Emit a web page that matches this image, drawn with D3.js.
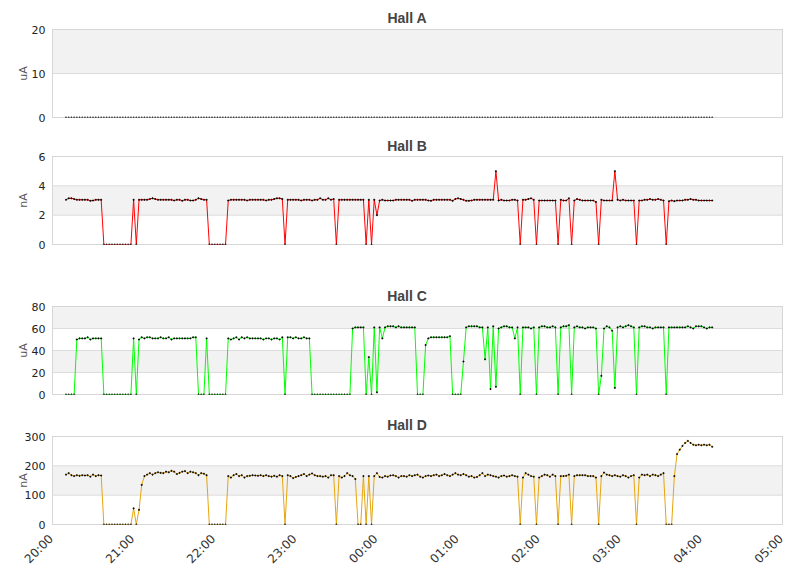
<!DOCTYPE html>
<html>
<head>
<meta charset="utf-8">
<script src="https://cdnjs.cloudflare.com/ajax/libs/d3/7.8.5/d3.min.js"></script>
<style>
body { margin: 0; background: #fff; }
</style>
</head>
<body>
<div id="chart-area"></div>
<script>
/*
*    four stacked panels, one per hall, shared time axis
*/

var chartWidth = 811;
var chartHeight = 578;

// samples every 2 minutes from 20:10
var startTime = "20:10";
var stepMinutes = 2;
var xTickLabels = ["20:00", "21:00", "22:00", "23:00", "00:00", "01:00", "02:00", "03:00", "04:00", "05:00"];

var hallA = [
    0, 0, 0, 0, 0, 0, 0, 0, 0, 0,   0, 0, 0, 0, 0, 0, 0, 0, 0, 0,
    0, 0, 0, 0, 0, 0, 0, 0, 0, 0,   0, 0, 0, 0, 0, 0, 0, 0, 0, 0,
    0, 0, 0, 0, 0, 0, 0, 0, 0, 0,   0, 0, 0, 0, 0, 0, 0, 0, 0, 0,
    0, 0, 0, 0, 0, 0, 0, 0, 0, 0,   0, 0, 0, 0, 0, 0, 0, 0, 0, 0,
    0, 0, 0, 0, 0, 0, 0, 0, 0, 0,   0, 0, 0, 0, 0, 0, 0, 0, 0, 0,
    0, 0, 0, 0, 0, 0, 0, 0, 0, 0,   0, 0, 0, 0, 0, 0, 0, 0, 0, 0,
    0, 0, 0, 0, 0, 0, 0, 0, 0, 0,   0, 0, 0, 0, 0, 0, 0, 0, 0, 0,
    0, 0, 0, 0, 0, 0, 0, 0, 0, 0,   0, 0, 0, 0, 0, 0, 0, 0, 0, 0,
    0, 0, 0, 0, 0, 0, 0, 0, 0, 0,   0, 0, 0, 0, 0, 0, 0, 0, 0, 0,
    0, 0, 0, 0, 0, 0, 0, 0, 0, 0,   0, 0, 0, 0, 0, 0, 0, 0, 0, 0,
    0, 0, 0, 0, 0, 0, 0, 0, 0, 0,   0, 0, 0, 0, 0, 0, 0, 0, 0, 0,
    0, 0, 0, 0, 0, 0, 0, 0, 0, 0,   0, 0, 0, 0, 0, 0, 0, 0, 0, 0
];

var hallB = [
    3.05, 3.15, 3.15, 3.1, 3.05, 3.05, 3.05, 3.05, 3.05, 2.98,
    3.0, 3.05, 3.05, 3.05, 0, 0, 0, 0, 0, 0,
    0, 0, 0, 0, 0, 3.05, 0, 3.05, 3.05, 3.05,
    3.05, 3.1, 3.15, 3.1, 3.05, 3.05, 3.05, 3.05, 3.05, 3.05,
    3.0, 3.05, 3.05, 2.98, 3.05, 3.05, 3.0, 3.0, 3.05, 3.15,
    3.1, 3.05, 3.05, 0, 0, 0, 0, 0, 0, 0,
    3.0, 3.05, 3.05, 3.05, 3.05, 3.05, 3.05, 3.0, 3.05, 3.05,
    3.05, 3.05, 3.05, 3.05, 3.0, 3.05, 3.05, 3.1, 3.15, 3.15,
    3.1, 0, 3.05, 3.05, 3.05, 3.05, 3.05, 3.0, 3.05, 3.05,
    3.05, 3.0, 3.05, 3.05, 3.15, 3.05, 3.05, 3.15, 3.05, 3.1,
    0, 3.05, 3.05, 3.05, 3.05, 3.05, 3.05, 3.05, 3.05, 3.05,
    3.05, 0, 3.05, 0, 3.05, 2.0, 3.0, 3.05, 3.0, 3.0,
    3.0, 3.0, 3.05, 3.05, 3.05, 3.05, 3.05, 3.05, 2.98, 3.05,
    3.05, 3.05, 3.05, 3.05, 3.0, 2.98, 3.05, 3.05, 3.05, 3.05,
    3.05, 3.05, 3.05, 2.98, 3.1, 3.15, 3.1, 3.05, 2.98, 2.98,
    3.0, 3.05, 3.05, 3.05, 3.05, 3.05, 3.05, 3.05, 3.05, 5.0,
    3.0, 3.05, 3.0, 3.0, 3.0, 3.05, 3.05, 3.0, 0, 3.05,
    3.05, 3.1, 3.15, 3.05, 0, 3.0, 3.0, 3.0, 3.0, 3.0,
    3.0, 3.0, 0, 3.05, 3.0, 3.0, 3.15, 0, 3.0, 3.1,
    3.05, 3.0, 3.0, 3.0, 3.0, 3.0, 2.9, 0, 3.05, 3.0,
    3.0, 3.0, 3.0, 5.0, 3.05, 3.0, 3.05, 3.0, 3.0, 3.0,
    3.0, 0, 3.0, 3.0, 3.05, 3.05, 3.1, 3.05, 3.05, 3.1,
    3.05, 3.0, 0, 2.95, 3.0, 2.95, 3.0, 3.0, 3.0, 3.05,
    3.05, 3.1, 3.05, 3.05, 3.0, 3.0, 3.0, 3.0, 3.0, 3.0
];

var hallC = [
    0, 0, 0, 0, 50, 51, 51, 51, 52, 50,
    51, 51, 51, 51, 0, 0, 0, 0, 0, 0,
    0, 0, 0, 0, 0, 51, 0, 50, 52, 51,
    52, 52, 51, 51, 51, 52, 51, 51, 52, 50,
    51, 51, 51, 51, 51, 51, 51, 52, 52, 0,
    0, 0, 51, 0, 0, 0, 0, 0, 0, 0,
    51, 50, 51, 52, 50, 52, 51, 52, 51, 51,
    51, 51, 51, 50, 51, 51, 50, 51, 51, 50,
    52, 0, 52, 52, 51, 52, 51, 51, 52, 51,
    51, 0, 0, 0, 0, 0, 0, 0, 0, 0,
    0, 0, 0, 0, 0, 0, 60, 61, 61, 61,
    61, 0, 34, 0, 61, 2, 61, 51, 61, 62,
    62, 62, 61, 62, 61, 61, 61, 61, 61, 61,
    0, 0, 0, 45, 51, 52, 52, 52, 52, 52,
    52, 52, 53, 0, 0, 0, 0, 30, 61, 62,
    62, 62, 62, 61, 61, 32, 61, 5, 62, 7,
    60, 61, 62, 62, 61, 61, 51, 61, 0, 61,
    61, 61, 60, 61, 0, 61, 62, 62, 61, 61,
    62, 61, 0, 61, 62, 62, 63, 0, 61, 62,
    61, 61, 60, 61, 61, 61, 60, 0, 17, 60,
    62, 61, 58, 6, 61, 62, 61, 62, 63, 62,
    61, 0, 61, 62, 62, 61, 61, 60, 61, 61,
    61, 61, 0, 61, 61, 61, 61, 61, 61, 61,
    62, 61, 60, 62, 62, 62, 61, 60, 61, 61
];

var hallD = [
    170, 175, 168, 165, 168, 166, 168, 167, 168, 163,
    170, 165, 168, 167, 0, 0, 0, 0, 0, 0,
    0, 0, 0, 0, 0, 55, 0, 50, 135, 165,
    170, 175, 170, 175, 178, 176, 175, 180, 178, 183,
    180, 172, 176, 180, 182, 175, 180, 178, 175, 168,
    175, 173, 168, 0, 0, 0, 0, 0, 0, 0,
    165, 160, 168, 172, 165, 168, 160, 165, 166, 168,
    167, 166, 168, 165, 168, 165, 163, 166, 163, 168,
    165, 0, 168, 165, 158, 162, 165, 168, 172, 165,
    170, 174, 168, 165, 165, 163, 165, 160, 168, 168,
    0, 165, 160, 165, 175, 168, 165, 155, 0, 0,
    165, 0, 165, 0, 165, 175, 162, 160, 165, 163,
    167, 168, 165, 160, 165, 165, 163, 168, 165, 168,
    170, 163, 160, 165, 167, 165, 168, 170, 165, 168,
    172, 168, 165, 170, 175, 170, 168, 172, 168, 163,
    165, 160, 162, 168, 175, 165, 170, 168, 165, 163,
    160, 165, 167, 163, 165, 168, 165, 163, 0, 160,
    175, 170, 165, 163, 0, 160, 165, 170, 168, 163,
    170, 165, 0, 165, 165, 166, 170, 0, 165, 168,
    168, 168, 168, 165, 165, 165, 160, 0, 165, 177,
    170, 168, 165, 168, 165, 163, 168, 165, 160, 165,
    168, 0, 160, 170, 168, 170, 165, 170, 168, 165,
    170, 175, 0, 0, 0, 165, 240, 255, 268, 278,
    285, 278, 272, 270, 272, 270, 272, 270, 272, 265
];

var titles = ["Hall A", "Hall B", "Hall C", "Hall D"];
var units = ["uA", "nA", "uA", "nA"];
var aTicks = [0, 10, 20];
var bTicks = [0, 2, 4, 6];
var cTicks = [0, 20, 40, 60, 80];
var dTicks = [0, 100, 200, 300];

var plotLeft = 52.5, plotRight = 782.5, plotH = 88;
var panels = [
    {title: titles[0], unit: units[0], values: hallA, ticks: aTicks, color: "none",    top: 29.5,  titleY: 23},
    {title: titles[1], unit: units[1], values: hallB, ticks: bTicks, color: "#ff0000", top: 156.5, titleY: 151},
    {title: titles[2], unit: units[2], values: hallC, ticks: cTicks, color: "#00ff00", top: 306.5, titleY: 301},
    {title: titles[3], unit: units[3], values: hallD, ticks: dTicks, color: "#e6a50c", top: 436.5, titleY: 430}
];

var parseHM = d3.timeParse("%Y-%m-%d %H:%M");
var t0 = parseHM("2000-01-01 " + startTime);
var times = hallA.map((d, i) => d3.timeMinute.offset(t0, i * stepMinutes));

var svg = d3.select("#chart-area").append("svg")
    .attr("width", chartWidth).attr("height", chartHeight);

var x = d3.scaleTime()
    .domain([parseHM("2000-01-01 20:00"), parseHM("2000-01-02 05:00")])
    .range([plotLeft, plotRight]);

panels.forEach((p, k) => {
    var y = d3.scaleLinear().domain([0, d3.max(p.ticks)]).range([p.top + plotH, p.top]);
    var g = svg.append("g");

    // alternating bands
    for (var i = 1; i < p.ticks.length - 1; i += 2) {
        g.append("rect").attr("x", plotLeft).attr("width", plotRight - plotLeft)
            .attr("y", y(p.ticks[i + 1]))
            .attr("height", y(p.ticks[i]) - y(p.ticks[i + 1]))
            .attr("fill", "#f2f2f2");
    }

    g.selectAll(".grid").data(p.ticks).enter().append("line")
        .attr("x1", plotLeft).attr("x2", plotRight)
        .attr("y1", (d) => y(d)).attr("y2", (d) => y(d))
        .attr("stroke", "#dcdcdc").attr("stroke-width", 1);

    g.append("rect").attr("x", plotLeft).attr("y", p.top)
        .attr("width", plotRight - plotLeft).attr("height", plotH)
        .attr("fill", "none").attr("stroke", "#d6d6d6").attr("stroke-width", 1);

    var yAxis = d3.axisLeft(y).tickValues(p.ticks).tickSize(0).tickPadding(7).tickFormat(d3.format("d"));
    var ya = g.append("g").attr("transform", "translate(" + plotLeft + ",0)").call(yAxis);
    ya.select(".domain").remove();
    ya.selectAll("text").style("font-size", "11px").attr("fill", "#222")
        .style("font-family", "DejaVu Sans, sans-serif");

    g.append("text").attr("transform", "translate(27," + (p.top + plotH / 2) + ") rotate(-90)")
        .attr("text-anchor", "middle").style("font-size", "11px")
        .style("font-family", "DejaVu Sans, sans-serif").attr("fill", "#555")
        .text(p.unit);

    g.append("text").attr("x", 407).attr("y", p.titleY).attr("text-anchor", "middle")
        .style("font-family", "'Liberation Sans', Arial, sans-serif").style("font-weight", "bold")
        .style("font-size", "14px").attr("fill", "#444").text(p.title);

    svg.append("clipPath").attr("id", "clip" + k).append("rect")
        .attr("x", plotLeft).attr("y", p.top).attr("width", plotRight - plotLeft).attr("height", plotH);

    var data = p.values.map((v, i) => ({t: times[i], v: v}));
    var plot = g.append("g").attr("clip-path", "url(#clip" + k + ")");

    if (p.color !== "none") {
        var line = d3.line().x((d) => x(d.t)).y((d) => y(d.v));
        plot.append("path").datum(data).attr("d", line)
            .attr("fill", "none").attr("stroke", p.color).attr("stroke-width", 1);
    }

    plot.selectAll(".mark").data(data).enter().append("path")
        .attr("transform", (d) => "translate(" + x(d.t) + "," + y(d.v) + ")")
        .attr("d", "M-1,0H1M0,-1V1")
        .attr("stroke", "#000").attr("stroke-width", 0.9).attr("fill", "none");
});

// time axis under the last panel
var xAxis = d3.axisBottom(x).ticks(d3.timeHour.every(1)).tickSize(0)
    .tickFormat((d, i) => xTickLabels[i]);
var xa = svg.append("g").attr("transform", "translate(0," + (436.5 + plotH) + ")").call(xAxis);
xa.select(".domain").remove();
xa.selectAll("text").style("font-size", "12px").attr("fill", "#333")
    .style("font-family", "DejaVu Sans, sans-serif")
    .attr("text-anchor", "end").attr("dy", 0).attr("y", 0)
    .attr("transform", "translate(1,15) rotate(-45)");
</script>
</body>
</html>
